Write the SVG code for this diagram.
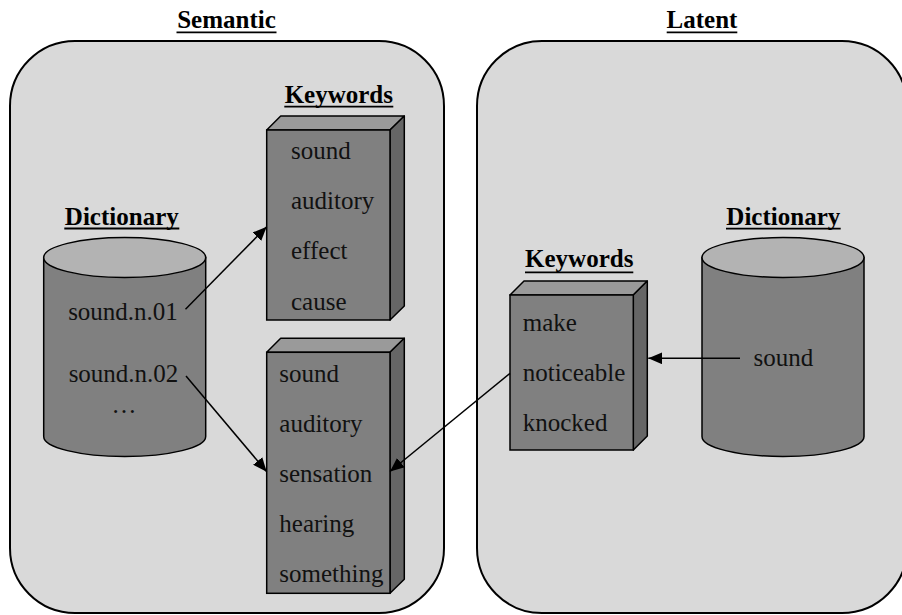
<svg xmlns="http://www.w3.org/2000/svg" width="902" height="615" viewBox="0 0 902 615">
  <style>
    .panel { fill: #d9d9d9; stroke: #000; stroke-width: 2; }
    .cyl-side { fill: #808080; stroke: #000; stroke-width: 1.5; }
    .cyl-top { fill: #b3b3b3; stroke: #000; stroke-width: 1.5; }
    .box-front { fill: #808080; stroke: #000; stroke-width: 1.5; }
    .box-top { fill: #9a9a9a; stroke: #000; stroke-width: 1.5; stroke-linejoin: round; }
    .box-side { fill: #666666; stroke: #000; stroke-width: 1.5; stroke-linejoin: round; }
    .title { font-family: "Liberation Serif", "Times New Roman", serif; font-weight: bold; font-size: 25px; fill: #000; }
    .uline { stroke: #000; stroke-width: 1.8; }
    .item { font-family: "Liberation Serif", "Times New Roman", serif; font-size: 25px; fill: #111; }
    .conn { stroke: #000; stroke-width: 1.5; fill: none; marker-end: url(#arrow); }
  </style>
  <defs>
    <marker id="arrow" markerUnits="userSpaceOnUse" markerWidth="14" markerHeight="12" refX="14" refY="6" orient="auto">
      <path d="M0,0 L14,6 L0,12 Z" fill="#000"/>
    </marker>
  </defs>

  <!-- Panels -->
  <g id="panel-semantic">
    <rect class="panel" x="10" y="41" width="434" height="572" rx="65" ry="65"/>
    <text class="title" x="226.5" y="28" text-anchor="middle">Semantic</text>
    <line class="uline" x1="176.5" y1="32.3" x2="276.5" y2="32.3"/>
  </g>
  <g id="panel-latent">
    <rect class="panel" x="477" y="41" width="430" height="572" rx="65" ry="65"/>
    <text class="title" x="702" y="28" text-anchor="middle">Latent</text>
    <line class="uline" x1="666.7" y1="32.3" x2="737.3" y2="32.3"/>
  </g>

  <!-- Semantic dictionary -->
  <g id="semantic-dictionary">
    <text class="title" x="121.8" y="225" text-anchor="middle">Dictionary</text>
    <line class="uline" x1="64.3" y1="228.5" x2="179.3" y2="228.5"/>
    <path class="cyl-side" d="M43.7,257.5 V436.5 A81,20 0 0 0 205.7,436.5 V257.5 Z"/>
    <ellipse class="cyl-top" cx="124.7" cy="257.5" rx="81" ry="20"/>
    <text class="item" x="123" y="320" text-anchor="middle">sound.n.01</text>
    <text class="item" x="123.5" y="381.7" text-anchor="middle">sound.n.02</text>
    <text class="item" x="124" y="413" text-anchor="middle">…</text>
  </g>

  <!-- Semantic keyword box 1 -->
  <g id="semantic-keywords-1">
    <text class="title" x="338.8" y="102.7" text-anchor="middle">Keywords</text>
    <line class="uline" x1="284.3" y1="106.7" x2="393.3" y2="106.7"/>
    <polygon class="box-top" points="266.7,130 280.7,116 404.3,116 390,130"/>
    <polygon class="box-side" points="390,130 404.3,116 404.3,306 390,320"/>
    <rect class="box-front" x="266.7" y="130" width="123.3" height="190"/>
    <text class="item" x="291" y="159.3">sound</text>
    <text class="item" x="291" y="209.3">auditory</text>
    <text class="item" x="291" y="259.3">effect</text>
    <text class="item" x="291" y="309.5">cause</text>
  </g>

  <!-- Semantic keyword box 2 -->
  <g id="semantic-keywords-2">
    <polygon class="box-top" points="266.7,352.3 280.7,338.3 404.3,338.3 390,352.3"/>
    <polygon class="box-side" points="390,352.3 404.3,338.3 404.3,579.3 390,593.3"/>
    <rect class="box-front" x="266.7" y="352.3" width="123.3" height="241"/>
    <text class="item" x="279.3" y="381.7">sound</text>
    <text class="item" x="279.3" y="431.7">auditory</text>
    <text class="item" x="279.3" y="481.7">sensation</text>
    <text class="item" x="279.3" y="531.7">hearing</text>
    <text class="item" x="279.3" y="582.3">something</text>
  </g>

  <!-- Latent keyword box -->
  <g id="latent-keywords">
    <text class="title" x="579.2" y="267.3" text-anchor="middle">Keywords</text>
    <line class="uline" x1="525" y1="272.3" x2="633.3" y2="272.3"/>
    <polygon class="box-top" points="510,295 524,281 647.3,281 633.3,295"/>
    <polygon class="box-side" points="633.3,295 647.3,281 647.3,436 633.3,450"/>
    <rect class="box-front" x="510" y="295" width="123.3" height="155"/>
    <text class="item" x="522.7" y="331">make</text>
    <text class="item" x="522.7" y="381">noticeable</text>
    <text class="item" x="522.7" y="431">knocked</text>
  </g>

  <!-- Latent dictionary -->
  <g id="latent-dictionary">
    <text class="title" x="783.3" y="225" text-anchor="middle">Dictionary</text>
    <line class="uline" x1="726" y1="228.7" x2="840.7" y2="228.7"/>
    <path class="cyl-side" d="M702,257.5 V436.5 A81,20 0 0 0 864,436.5 V257.5 Z"/>
    <ellipse class="cyl-top" cx="783" cy="257.5" rx="81" ry="20"/>
    <text class="item" x="783.3" y="365.7" text-anchor="middle">sound</text>
  </g>

  <!-- Connectors -->
  <g id="connectors">
    <line class="conn" x1="185.5" y1="309.3" x2="266.7" y2="226.7"/>
    <line class="conn" x1="186" y1="376" x2="266.7" y2="471.7"/>
    <line class="conn" x1="510" y1="373.3" x2="390" y2="471.5"/>
    <line class="conn" x1="740" y1="358.3" x2="648.3" y2="358.3"/>
  </g>
</svg>
